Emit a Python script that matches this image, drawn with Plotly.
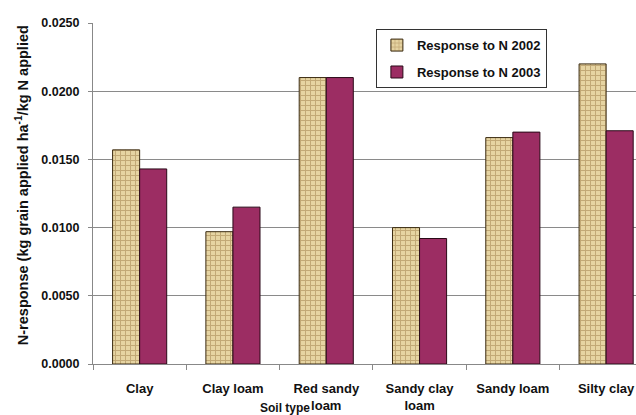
import plotly.graph_objects as go

categories = ["Clay", "Clay loam", "Red sandy<br>loam", "Sandy clay<br>loam", "Sandy loam", "Silty clay"]
resp_2002 = [0.0157, 0.0097, 0.0210, 0.0100, 0.0166, 0.0220]
resp_2003 = [0.0143, 0.0115, 0.0210, 0.0092, 0.0170, 0.0171]
y_ticks = [0.0, 0.005, 0.010, 0.015, 0.020, 0.025]

FONT = "Liberation Sans, Arial, sans-serif"

fig = go.Figure()
fig.add_trace(go.Bar(
    x=categories, y=resp_2002, name="<b>Response to N 2002</b>",
    legendgroup="a",
    marker=dict(color="#e4d09c",
                line=dict(color="#3a2a10", width=1),
                pattern=dict(shape="+", fgcolor="#9c7c48", bgcolor="#e6d4a2",
                             size=5, solidity=0.35)),
))
fig.add_trace(go.Bar(
    x=categories, y=resp_2003, name="<b>Response to N 2003</b>",
    legendgroup="b",
    marker=dict(color="#9c2d63", line=dict(color="#2a0a18", width=1)),
))

fig.update_layout(
    width=636, height=415,
    margin=dict(l=93, r=0, t=23, b=51),
    paper_bgcolor="white", plot_bgcolor="white",
    barmode="group", bargap=0.42, bargroupgap=0,
    font=dict(family=FONT, size=12, color="#111"),
    showlegend=True,
    legend=dict(x=0.521, y=0.982, xanchor="left", yanchor="top",
                bordercolor="#333", borderwidth=1, bgcolor="white",
                font=dict(family=FONT, size=13, color="#111"),
                tracegroupgap=7, itemwidth=30),
    xaxis=dict(range=[-0.5, 5.32], showline=True, linecolor="#888", linewidth=1,
               ticks="outside", tickson="boundaries", ticklen=5, tickcolor="#888",
               ticklabelstandoff=12,
               tickfont=dict(family=FONT, size=13, color="#111"),
               tickprefix="<b>", ticksuffix="</b>", showgrid=False),
    yaxis=dict(range=[0, 0.025], tickvals=y_ticks,
               ticktext=[f"<b>{v:.4f}</b>" for v in y_ticks],
               showline=True, linecolor="#888", linewidth=1,
               ticks="outside", ticklen=4, tickcolor="#888",
               ticklabelstandoff=6,
               showgrid=True, gridcolor="#8a8a8a", gridwidth=1,
               tickfont=dict(family=FONT, size=12.5, color="#111"), zeroline=False),
)

fig.add_annotation(text="<b>N-response (kg grain applied ha<sup>-1</sup>/kg N applied</b>",
                   xref="paper", yref="paper", x=-0.131, y=0.524, xanchor="center", yanchor="middle",
                   textangle=-90, showarrow=False,
                   font=dict(family=FONT, size=14.5, color="#111"))
fig.add_annotation(text="<b>Soil type</b>", xref="paper", yref="paper",
                   x=0.354, y=-0.128, xanchor="center", yanchor="middle", showarrow=False,
                   font=dict(family=FONT, size=12, color="#111"))

fig.write_html("out.html")
